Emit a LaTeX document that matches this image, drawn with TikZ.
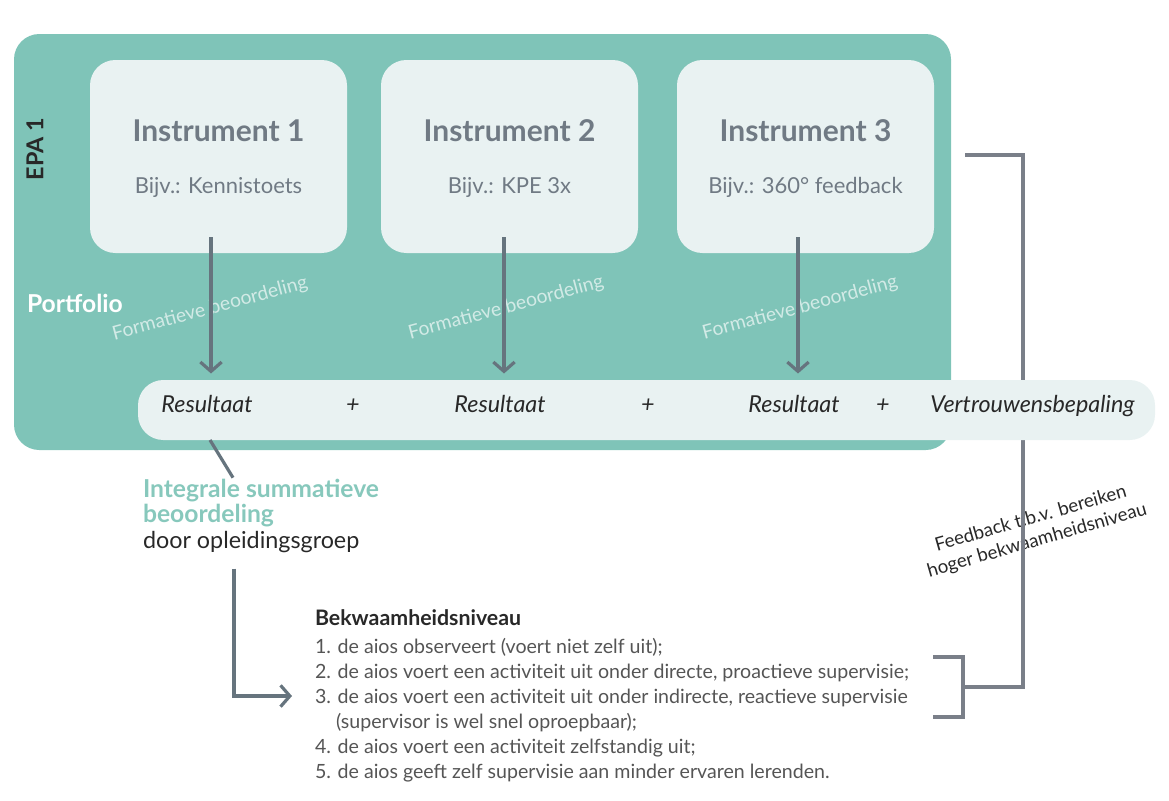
\documentclass[tikz,border=0pt]{standalone}
\usepackage{fontspec}
\setmainfont{Lato}
\usetikzlibrary{positioning,arrows.meta}

\definecolor{epateal}{RGB}{127,196,184}
\definecolor{paleteal}{RGB}{233,242,242}
\definecolor{instrgray}{RGB}{112,122,132}
\definecolor{arrowgray}{RGB}{102,116,126}
\definecolor{linegray}{RGB}{122,127,137}
\definecolor{inktext}{RGB}{40,40,40}
\definecolor{listgray}{RGB}{85,85,85}
\definecolor{summteal}{RGB}{135,200,188}

\begin{document}
\begin{tikzpicture}[
x=0.75pt, y=-0.75pt,
every node/.style = {inner sep=0pt, outer sep=0pt},
epabox/.style = {shape=rectangle, rounded corners=19pt, fill=epateal, minimum width=702.75pt, minimum height=312pt},
instrbox/.style = {shape=rectangle, rounded corners=19pt, fill=paleteal, minimum width=192.75pt, minimum height=144.75pt},
instrtitle/.style = {anchor=base, font=\bfseries\fontsize{22.5}{26}\selectfont, text=instrgray},
instrsub/.style = {anchor=base, font=\fontsize{16.5}{19}\selectfont, text=instrgray},
formative/.style = {rotate=15, font=\fontsize{14.5}{17}\selectfont, text=white, text opacity=0.65},
resultbar/.style = {shape=rectangle, rounded corners=19pt, fill=paleteal, minimum width=762.75pt, minimum height=45pt},
result/.style = {anchor=base, font=\itshape\fontsize{17.5}{20}\selectfont, text=inktext},
flow/.style = {draw=arrowgray, line width=2.4pt, -{Straight Barb[length=7pt,width=16pt]}},
feedback/.style = {draw=linegray, line width=2.6pt},
]
\useasboundingbox (0,0) rectangle (1169,800);

% EPA container
\node[epabox] (epa) at (482.5,242) {};
\node[rotate=90, font=\bfseries\fontsize{17.5}{20}\selectfont, text=inktext] (epalabel) at (35,149) {EPA 1};
\node[anchor=base west, font=\bfseries\fontsize{18.5}{21}\selectfont, text=white] (portfolio) at (27,312) {Portfolio};

% instruments
\node[instrbox] (ins1) at (218.5,156.5) {};
\node[instrbox] (ins2) at (509.5,156.5) {};
\node[instrbox] (ins3) at (805.5,156.5) {};
\node[instrtitle] (title1) at ([yshift=10.9pt]ins1.center) {Instrument 1};
\node[instrtitle] (title2) at ([yshift=10.9pt]ins2.center) {Instrument 2};
\node[instrtitle] (title3) at ([yshift=10.9pt]ins3.center) {Instrument 3};
\node[instrsub] (sub1) at ([yshift=-28.1pt]ins1.center) {Bijv.: Kennistoets};
\node[instrsub] (sub2) at ([yshift=-28.1pt]ins2.center) {Bijv.: KPE 3x};
\node[instrsub] (sub3) at ([yshift=-28.1pt]ins3.center) {Bijv.: 360° feedback};

% formatief
\node[formative] (form1) at (210,309) {Formatieve beoordeling};
\node[formative] (form2) at (506,308) {Formatieve beoordeling};
\node[formative] (form3) at (800,308) {Formatieve beoordeling};

% feedback loop (behind the bar)
\node[rotate=16, align=center, font=\fontsize{14}{17}\selectfont, text=inktext] (fbtext) at (1034,530)
  {Feedback t.b.v. bereiken\\hoger bekwaamheidsniveau};
\coordinate (brk) at (963,687);
\draw[feedback] ([xshift=23.25pt,yshift=1pt]ins3.east) -| (1023,687) -- (brk);
\draw[feedback] (933,657) -- (963,657) -- (963,717) -- (933,717);

% results
\node[resultbar] (bar) at (646.5,410) {};
\node[result] (res1) at (207,412) {Resultaat};
\node[result] (plus1) at (353,412) {+};
\node[result] (res2) at (500,412) {Resultaat};
\node[result] (plus2) at (648,412) {+};
\node[result] (res3) at (794,412) {Resultaat};
\node[result] (plus3) at (883,412) {+};
\node[result] (trust) at (1032.5,412) {Vertrouwensbepaling};

\draw[flow] ([xshift=3pt,yshift=12pt]ins1.south -| res1.north) -- ([xshift=3pt,yshift=16pt]res1.north);
\draw[flow] ([xshift=3pt,yshift=12pt]ins2.south -| res2.north) -- ([xshift=3pt,yshift=16pt]res2.north);
\draw[flow] ([xshift=3pt,yshift=12pt]ins3.south -| res3.north) -- ([xshift=3pt,yshift=16pt]res3.north);

% summatief
\node[anchor=north west, align=left, font=\fontsize{17.5}{19.1}\selectfont] (summ) at (143,479)
  {\textcolor{summteal}{\bfseries\fontsize{18.5}{19.1}\selectfont Integrale summatieve}\\
   \textcolor{summteal}{\bfseries\fontsize{18.5}{19.1}\selectfont beoordeling}\\
   \textcolor{inktext}{door opleidingsgroep}};
\draw[draw=arrowgray, line width=2.4pt] ([xshift=2.25pt]res1.south |- bar.south) -- ([xshift=67.5pt,yshift=1pt]summ.north west);

% niveaus
\node[anchor=base west, font=\bfseries\fontsize{16}{19}\selectfont, text=inktext] (niveau) at (315,625) {Bekwaamheidsniveau};
\node[below=10pt of niveau.south west, anchor=north west, align=left, font=\fontsize{14.7}{18.75}\selectfont, text=listgray] (levels)
  {1. de aios observeert (voert niet zelf uit);\\
   2. de aios voert een activiteit uit onder directe, proactieve supervisie;\\
   3. de aios voert een activiteit uit onder indirecte, reactieve supervisie\\
   \phantom{3.\ }(supervisor is wel snel oproepbaar);\\
   4. de aios voert een activiteit zelfstandig uit;\\
   5. de aios geeft zelf supervisie aan minder ervaren lerenden.};
\coordinate (lvl3) at (292,696);
\draw[flow] ([xshift=68.25pt,yshift=-12pt]summ.south west) |- (lvl3);
\end{tikzpicture}
\end{document}
